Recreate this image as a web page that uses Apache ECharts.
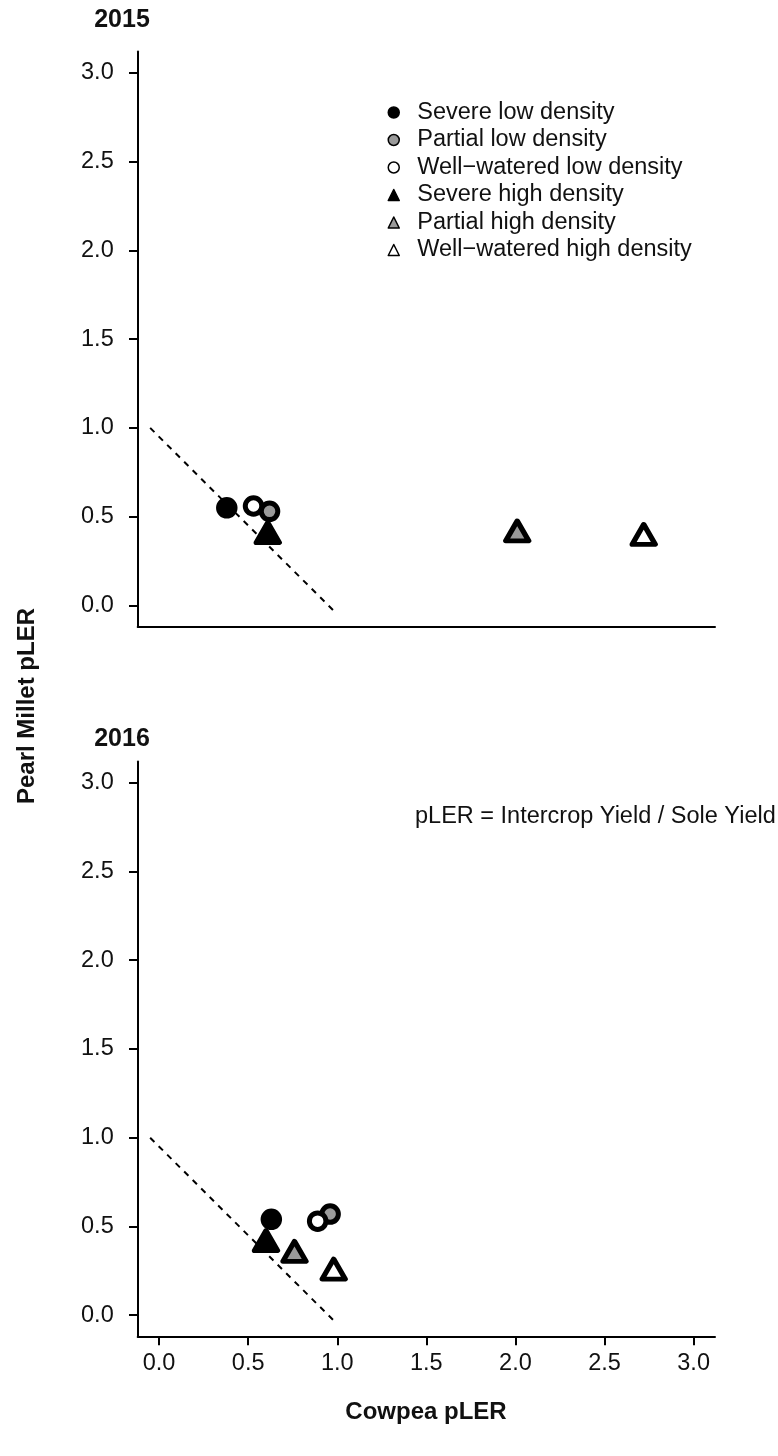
<!DOCTYPE html>
<html>
<head>
<meta charset="utf-8">
<script src="https://cdn.jsdelivr.net/npm/echarts@6/dist/echarts.min.js"></script>
<style>
html,body{margin:0;padding:0;background:#fff;}
#chart{width:778px;height:1456px;}
</style>
</head>
<body>
<div id="chart"></div>
<script>
// ---- data ----
var categories = ['Severe low density','Partial low density','Well\u2212watered low density','Severe high density','Partial high density','Well\u2212watered high density'];
var x2015 = [0.38, 0.62, 0.53, 0.61, 2.01, 2.72];
var y2015 = [0.55, 0.53, 0.56, 0.41, 0.42, 0.40];
var x2016 = [0.63, 0.96, 0.89, 0.60, 0.76, 0.98];
var y2016 = [0.54, 0.57, 0.53, 0.42, 0.36, 0.26];
var refLineX = [-0.05, 0.99];
var refLineY = [1.00, -0.04];
var tickValues = [0, 0.5, 1.0, 1.5, 2.0, 2.5, 3.0];
var panelTitles = ['2015', '2016'];

// ---- styles ----
var fills = ['#000000', '#9a9a9a', '#ffffff', '#000000', '#9a9a9a', '#ffffff'];
var shapes = ['circle', 'circle', 'circle', 'triangle', 'triangle', 'triangle'];
var FONT = '"Liberation Sans", Arial, Helvetica, sans-serif';
var TXT = '#111111';
var FS = 23.5;

var gridLeft = 137.7, gridW = 577.3, gridH = 575.1;
var gridTops = [51.6, 761.4];

function axisX(idx, showLabels) {
  return {
    type: 'value', gridIndex: idx, min: -0.12, max: 3.12,
    splitLine: {show: false},
    axisLine: {show: true, onZero: false, lineStyle: {color: '#000', width: 2}},
    axisTick: {show: showLabels, customValues: tickValues, length: 8.7, lineStyle: {color: '#000', width: 2}},
    axisLabel: {show: showLabels, customValues: tickValues, margin: 15, fontSize: FS, fontFamily: FONT, color: TXT,
      formatter: function (v) { return Number(v).toFixed(1); }}
  };
}
function axisY(idx) {
  return {
    type: 'value', gridIndex: idx, min: -0.12, max: 3.12,
    splitLine: {show: false},
    axisLine: {show: true, onZero: false, lineStyle: {color: '#000', width: 2}},
    axisTick: {show: true, customValues: tickValues, length: 8.7, lineStyle: {color: '#000', width: 2}},
    axisLabel: {show: true, customValues: tickValues, margin: 24, fontSize: FS, fontFamily: FONT, color: TXT,
      formatter: function (v) { return Number(v).toFixed(1); }}
  };
}

var series = [];
function addPanel(idx, xs, ys, order) {
  series.push({
    type: 'line', xAxisIndex: idx, yAxisIndex: idx, silent: true,
    data: [[refLineX[0], refLineY[0]], [refLineX[1], refLineY[1]]],
    symbol: 'none', lineStyle: {color: '#000', width: 2, type: [6, 6]}, z: 1
  });
  order.forEach(function (i) {
    var isTri = shapes[i] === 'triangle';
    series.push({
      type: 'scatter', name: categories[i], xAxisIndex: idx, yAxisIndex: idx,
      symbol: shapes[i], symbolSize: isTri ? [23, 20] : 16.5,
      itemStyle: {color: fills[i], borderColor: '#000', borderWidth: 5, borderJoin: 'round', opacity: 1},
      data: [[xs[i], ys[i]]], z: 3
    });
  });
}
addPanel(0, x2015, y2015, [0, 2, 1, 3, 4, 5]);
addPanel(1, x2016, y2016, [0, 1, 2, 3, 4, 5]);

var option = {
  backgroundColor: '#ffffff',
  animation: false,
  grid: [
    {left: gridLeft, top: gridTops[0], width: gridW, height: gridH},
    {left: gridLeft, top: gridTops[1], width: gridW, height: gridH}
  ],
  xAxis: [axisX(0, false), axisX(1, true)],
  yAxis: [axisY(0), axisY(1)],
  legend: {
    orient: 'vertical', left: 382.5, top: 95.5,
    data: categories.map(function (c, i) { return {name: c, icon: shapes[i]}; }),
    itemWidth: 11, itemHeight: 11, itemGap: 3.5,
    itemStyle: {borderWidth: 1.5, borderColor: '#000'},
    selectedMode: false,
    textStyle: {fontSize: FS, lineHeight: FS, fontFamily: FONT, color: TXT, padding: [0, 0, 0, 13]}
  },
  graphic: [
    {type: 'text', x: 122, y: 20, style: {text: panelTitles[0], font: 'bold 25px ' + FONT, fill: TXT, align: 'center', verticalAlign: 'middle'}},
    {type: 'text', x: 122, y: 739, style: {text: panelTitles[1], font: 'bold 25px ' + FONT, fill: TXT, align: 'center', verticalAlign: 'middle'}},
    {type: 'text', x: 27, y: 706, rotation: Math.PI / 2,
      style: {text: 'Pearl Millet pLER', font: 'bold 24px ' + FONT, fill: TXT, align: 'center', verticalAlign: 'middle'}},
    {type: 'text', x: 426, y: 1412,
      style: {text: 'Cowpea pLER', font: 'bold 24px ' + FONT, fill: TXT, align: 'center', verticalAlign: 'middle'}},
    {type: 'text', x: 415, y: 817,
      style: {text: 'pLER = Intercrop Yield / Sole Yield', font: FS + 'px ' + FONT, fill: TXT, align: 'left', verticalAlign: 'middle'}}
  ],
  series: series
};
var chart = echarts.init(document.getElementById('chart'), null, {renderer: 'canvas'});
chart.setOption(option);
</script>
</body>
</html>
